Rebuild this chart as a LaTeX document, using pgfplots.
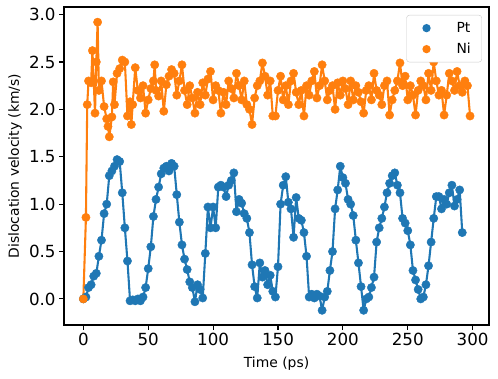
\documentclass[border=0pt]{standalone}
\usepackage{pgfplots}
\usepackage{pgfplotstable}
\pgfplotsset{compat=1.18}
\usepackage{fontspec}
\setmainfont{DejaVu Sans}
\definecolor{cA}{HTML}{1F77B4}
\definecolor{cB}{HTML}{FF7F0E}
\pgfplotsset{dotlegend/.style={legend image code/.code={\path[draw=none, fill=none] (0pt,-10.5pt) rectangle (39pt,10.5pt); \fill[##1, draw=none] (11pt,0pt) circle[radius=4.17pt];}}}

\pgfplotstableread{
t v
0 0.00
2 0.02
4 0.12
6 0.15
8 0.24
10 0.27
12 0.45
14 0.62
16 0.90
18 1.00
20 1.30
22 1.35
24 1.40
26 1.47
28 1.45
30 1.12
32 0.75
34 0.40
36 -0.02
38 -0.01
40 -0.02
42 0.00
44 -0.02
46 0.02
48 0.12
50 0.32
52 0.55
54 0.87
56 1.05
58 1.18
60 1.32
62 1.38
64 1.40
66 1.35
68 1.43
70 1.40
72 1.10
74 0.81
76 0.57
78 0.42
80 0.31
82 0.18
84 0.12
86 -0.03
88 0.15
90 0.10
92 0.01
94 0.48
96 0.97
98 0.75
100 0.97
102 0.75
104 1.18
106 1.20
108 1.18
110 1.08
112 1.20
114 1.25
116 1.33
118 0.92
120 1.05
122 1.01
124 0.90
126 0.85
128 0.70
130 0.36
132 0.13
134 0.01
136 0.38
138 0.23
140 0.30
142 0.15
144 0.25
146 0.08
148 0.02
150 0.34
152 1.00
154 1.20
156 1.29
158 1.02
160 0.95
162 0.65
164 1.07
166 0.85
168 0.83
170 0.70
172 0.45
174 0.02
176 0.05
178 0.01
180 0.05
182 0.03
184 -0.12
186 0.02
188 0.08
190 0.30
192 0.50
194 0.95
196 1.15
198 1.40
200 1.28
202 1.22
204 1.05
206 1.00
208 0.88
210 0.62
212 0.38
214 0.13
216 -0.12
218 0.00
220 0.02
222 0.12
224 0.23
226 0.60
228 0.75
230 0.85
232 0.97
234 1.12
236 1.22
238 1.30
240 1.33
242 1.20
244 1.12
246 0.85
248 0.80
250 0.72
252 0.57
254 0.30
256 0.20
258 0.10
260 0.00
262 0.02
264 0.15
266 0.35
268 0.60
270 0.85
272 1.08
274 1.08
276 0.95
278 1.05
280 1.00
282 1.12
284 1.20
286 0.98
288 1.05
290 1.15
292 0.70
}\ptdata

\pgfplotstableread{
t v
0 0.00
2 0.86
3 2.05
4 2.30
6 2.28
7 2.62
8 2.30
9 1.96
10 2.50
11 2.92
12 2.20
14 2.30
16 2.03
18 1.90
19 1.82
20 1.71
22 1.92
23 2.29
24 2.05
26 2.38
28 2.43
30 2.52
32 2.50
34 1.93
36 2.08
37 1.84
38 2.05
40 2.44
42 2.20
44 2.12
46 2.25
48 1.96
50 2.10
52 2.22
54 2.30
55 2.47
56 2.20
58 2.14
60 2.30
62 1.98
64 2.26
66 2.35
68 2.42
70 2.38
72 2.15
74 2.30
76 2.47
78 2.20
80 2.05
82 2.25
84 2.12
86 1.96
88 2.18
90 2.05
92 2.28
94 2.15
96 2.32
98 2.40
100 2.10
102 2.25
104 2.20
106 1.96
108 2.18
110 2.05
112 2.30
114 2.22
116 2.12
118 2.38
120 2.25
122 2.10
124 2.30
126 2.05
128 2.00
130 1.84
132 2.12
134 2.25
136 2.30
138 2.49
140 2.35
142 2.15
144 2.30
146 1.93
148 1.93
150 2.20
152 2.35
154 2.10
156 2.25
158 2.05
160 2.30
162 2.38
164 2.18
166 2.05
168 2.20
170 1.93
172 2.25
174 2.15
176 2.30
178 2.40
180 2.12
182 2.25
184 2.47
186 2.30
188 2.10
190 2.20
192 2.25
194 2.00
196 2.28
198 2.15
200 2.30
202 2.22
204 2.05
206 2.30
208 2.10
210 2.25
212 2.18
214 2.08
216 1.96
218 2.20
220 2.25
222 2.10
224 2.38
226 2.20
228 2.15
230 2.05
232 2.25
234 2.30
236 1.94
238 2.10
240 2.20
242 2.30
244 2.49
246 2.25
248 2.35
250 2.10
252 2.25
254 2.15
256 1.94
258 2.20
260 2.30
262 2.25
264 2.10
266 2.38
268 2.20
270 2.50
272 2.30
274 2.15
276 2.20
278 1.94
280 2.15
282 2.38
284 2.30
286 2.20
288 2.40
290 2.25
292 2.18
294 2.30
296 2.25
298 1.93
}\nidata

\begin{document}
\begin{tikzpicture}
\begin{axis}[
  scale only axis,
  width=425pt, height=318pt,
  at={(0,0)}, anchor=south west,
  xmin=-14.9, xmax=312.6,
  ymin=-0.275, ymax=3.08,
  xtick={0,50,...,300},
  ytick={0,0.5,1,1.5,2,2.5,3},
  yticklabel style={/pgf/number format/.cd, fixed, fixed zerofill, precision=1},
  /pgf/number format/assume math mode=true,
  tick align=outside,
  major tick length=4.86pt,
  every tick/.style={black, line width=1.1pt},
  axis line style={black, line width=1.1pt},
  xtick pos=bottom, ytick pos=left,
  ticklabel style={font=\fontsize{16.7}{20}\selectfont},
  xlabel={Time (ps)},
  ylabel={Dislocation velocity (km/s)},
  every axis x label/.style={at={([yshift=-42.5pt]rel axis cs:0.5,0)}, anchor=base, font=\fontsize{13.9}{16}\selectfont},
  every axis y label/.style={at={([xshift=-45pt]rel axis cs:0,0.5)}, anchor=base, rotate=90, font=\fontsize{13.9}{16}\selectfont},
  legend style={at={(rel axis cs:0.9835,0.975)}, anchor=north east,
    draw=black!20, rounded corners=3pt, fill=white,
    inner xsep=9pt, inner ysep=2.5pt, row sep=0pt, column sep=0pt,
    font=\fontsize{13.9}{16}\selectfont,
    nodes={inner sep=2pt}},
  legend cell align=left,
]
\addplot[only marks, mark=*, mark size=4.17pt, color=cA, mark options={draw=cA, fill=cA}, dotlegend]
  table[x=t, y=v] {\ptdata};
\addlegendentry{Pt}
\addplot[only marks, mark=*, mark size=4.17pt, color=cB, mark options={draw=cB, fill=cB}, dotlegend]
  table[x=t, y=v] {\nidata};
\addlegendentry{Ni}
\addplot[forget plot, no marks, color=cA, line width=2.08pt, line join=round] table[x=t, y=v] {\ptdata};
\addplot[forget plot, no marks, color=cB, line width=2.08pt, line join=round] table[x=t, y=v] {\nidata};
\end{axis}
\pgfresetboundingbox
\path[use as bounding box] (-64pt,-54pt) rectangle (434pt,325pt);
\end{tikzpicture}
\end{document}
